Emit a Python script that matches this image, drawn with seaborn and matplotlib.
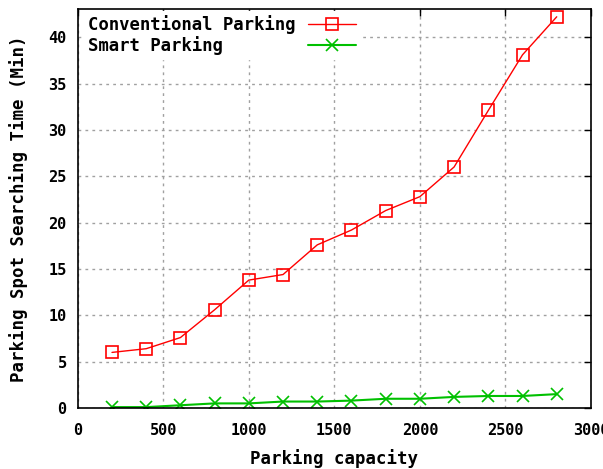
import numpy as np
import pandas as pd
import matplotlib
matplotlib.use('Agg')
import matplotlib.pyplot as plt
import seaborn as sns

# data
capacity = [200, 400, 600, 800, 1000, 1200, 1400, 1600, 1800, 2000, 2200, 2400, 2600, 2800]
conventional = [6.0, 6.4, 7.6, 10.6, 13.8, 14.4, 17.6, 19.2, 21.3, 22.8, 26.0, 32.1, 38.1, 42.2]
smart = [0.1, 0.1, 0.3, 0.5, 0.5, 0.7, 0.7, 0.8, 1.0, 1.0, 1.2, 1.3, 1.3, 1.5]
x_ticks = [0, 500, 1000, 1500, 2000, 2500, 3000]
y_ticks = [0, 5, 10, 15, 20, 25, 30, 35, 40]

sns.set_style('white')
plt.rcParams['font.family'] = ['DejaVu Sans Mono']
plt.rcParams['font.weight'] = 'bold'
plt.rcParams['text.color'] = 'black'
plt.rcParams['axes.labelcolor'] = 'black'
plt.rcParams['xtick.color'] = 'black'
plt.rcParams['ytick.color'] = 'black'

df = pd.DataFrame({'cap': capacity, 'conv': conventional, 'smart': smart})

fig = plt.figure(figsize=(6.03, 4.69), dpi=100)
ax = fig.add_axes([0.129, 0.130, 0.851, 0.850])

sns.lineplot(data=df, x='cap', y='conv', ax=ax, color='#ff0000', lw=1,
             marker='s', markersize=9, markerfacecolor='none',
             markeredgecolor='#ff0000', markeredgewidth=1.2,
             label='Conventional Parking')
sns.lineplot(data=df, x='cap', y='smart', ax=ax, color='#00c000', lw=1.5,
             marker='x', markersize=9, markeredgecolor='#00c000',
             markeredgewidth=1.2, label='Smart Parking       ')

ax.set_xlim(0, 3000)
ax.set_ylim(0, 43)
ax.set_xticks(x_ticks)
ax.set_yticks(y_ticks)
ax.tick_params(direction='in', length=5, top=True, right=True,
               labelsize=11, width=1)
ax.tick_params(axis='x', pad=11)
ax.tick_params(axis='y', pad=8)
for lab in ax.get_xticklabels() + ax.get_yticklabels():
    lab.set_fontweight('bold')
ax.grid(True, color='#a0a0a0', linestyle=(0, (2, 3)), lw=1)
for s in ax.spines.values():
    s.set_color('black')
    s.set_linewidth(1.2)

ax.set_xlabel('Parking capacity', fontsize=12.5, fontweight='bold', labelpad=8)
ax.set_ylabel('Parking Spot Searching Time (Min)', fontsize=12.5,
              fontweight='bold', labelpad=15)

leg = ax.legend(loc='upper left', bbox_to_anchor=(0.01, 1.0),
                markerfirst=False, frameon=True,
                fontsize=12.4, handlelength=2.8, borderaxespad=0.1,
                labelspacing=0.15, borderpad=0.2, handletextpad=0.7)
leg.get_frame().set_facecolor('white')
leg.get_frame().set_edgecolor('white')
leg.get_frame().set_alpha(1)
for t in leg.get_texts():
    t.set_fontweight('bold')

fig.savefig('out.png', dpi=100)
